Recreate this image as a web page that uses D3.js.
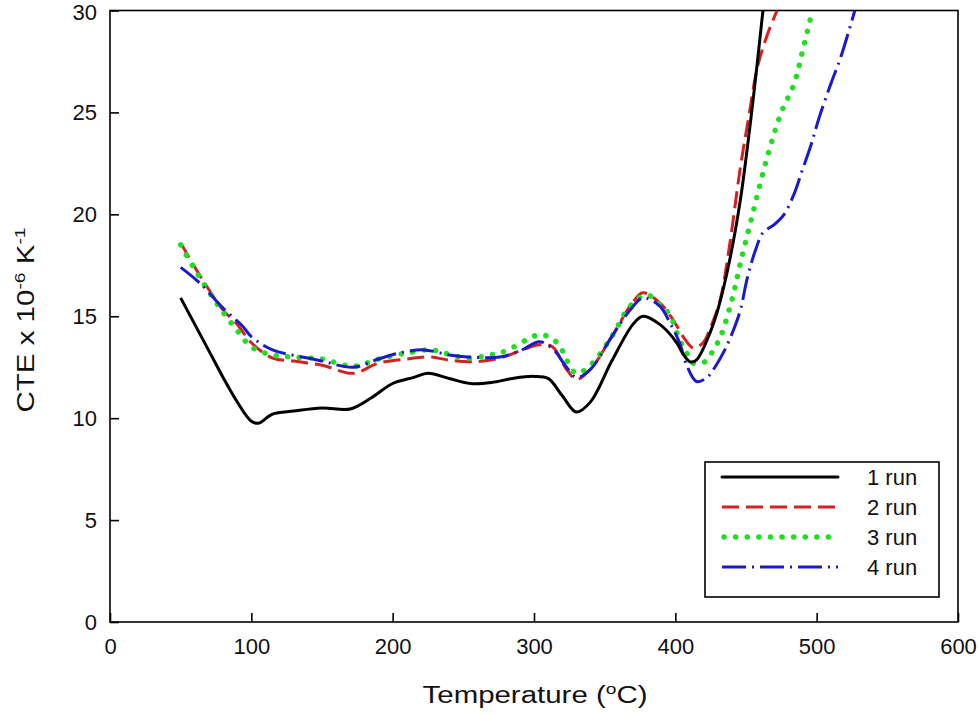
<!DOCTYPE html>
<html><head><meta charset="utf-8">
<script src="https://cdn.jsdelivr.net/npm/d3@7"></script>
<style>body{margin:0;background:#fff;}svg{display:block;font-family:Arial,"Liberation Sans",sans-serif;}</style>
</head><body><svg id="c" width="978" height="714"></svg>
<script>
const xTicks = [0,100,200,300,400,500,600];
const yTicks = [0,5,10,15,20,25,30];
const seriesNames = ["1 run","2 run","3 run","4 run"];

const run1T = [50,60,70,80,90,100,105,115,130,150,170,185,200,215,225,240,255,270,285,300,310,320,330,340,355,370,377,389,401,405,410.5,415,424.6,430,438,446,455,462];
const run1V = [15.9,14.6,13.3,12.0,10.8,9.85,9.75,10.2,10.35,10.5,10.45,11.0,11.7,12.0,12.2,11.95,11.7,11.75,11.95,12.05,11.95,11.1,10.3,10.8,12.8,14.6,15.0,14.6,13.7,13.2,12.76,12.86,14.2,15.3,17.6,20.7,25.6,30];

const run2T = [50,60,70,80,90,100,115,130,150,172,190,210,226,240,257,276,290,304,313,323,330,340,355,370,377,389,398.6,407,412.6,419.7,424.6,431.7,438,446,452,458,465,472];
const run2V = [18.6,17.4,16.3,15.3,14.6,13.7,12.95,12.8,12.6,12.2,12.7,12.9,13.0,12.85,12.77,12.95,13.3,13.6,13.5,12.4,11.9,12.4,14.0,15.7,16.15,15.66,14.8,13.85,13.45,13.7,14.4,15.8,18.3,22.3,24.8,27.2,28.8,30];

const run3T = [50,60,70,80,90,100,115,130,150,172,190,210,227,236,252,269,280,295,304,313,319,323,330,340,355,368,380,389,396,403,408,412.7,421,427,432,440,446,455,465,475,484,490,497];
const run3V = [18.5,17.3,16.2,15.2,14.3,13.5,13.1,13.0,12.9,12.55,12.9,13.2,13.35,13.2,12.95,13.1,13.3,13.85,14.1,13.9,13.45,12.86,12.2,12.6,14.0,15.5,16.05,15.56,15.07,13.85,13.2,12.7,12.77,13.35,14.0,15.8,17.6,20.1,22.8,25.0,26.4,28.0,30];

const run4T = [50,64,80,94,100,115,139,150,172,190,205,222,240,253,276,290,304,314,322,330,340,355,368,377,389,396,403,408,415,422.5,428,435,441,446,451,457,462,470,477,484,490,496,502,510,517,527];
const run4V = [17.4,16.6,15.4,14.5,14.0,13.35,12.96,12.8,12.5,12.9,13.2,13.35,13.1,13.0,13.0,13.3,13.75,13.35,12.6,12.0,12.4,14.0,15.3,15.9,15.5,14.7,13.7,12.6,11.8,12.0,12.5,13.35,14.3,15.3,16.9,18.3,19.1,19.5,20.0,21.0,22.2,23.4,24.8,26.4,27.7,30];

const runsT = [run1T, run2T, run3T, run4T];
const runsV = [run1V, run2V, run3V, run4V];
const colors = ["#000000","#d62020","#22dd22","#1a1acc"];
const dashes = [null,"17 7","0.1 11.5","24 6 2 6"];
const widths = [3,3,5.5,3];
const caps = ["butt","butt","round","butt"];

const svg = d3.select("#c");
const L=110, R=958, T=10.5, B=622;
const x = d3.scaleLinear().domain([0,600]).range([L,R]);
const y = d3.scaleLinear().domain([0,30]).range([B,T]);

svg.append("defs").append("clipPath").attr("id","clip").append("rect")
  .attr("x",L).attr("y",T).attr("width",R-L).attr("height",B-T);

svg.append("rect").attr("x",L).attr("y",T).attr("width",R-L).attr("height",B-T)
  .attr("fill","none").attr("stroke","#000").attr("stroke-width",1.6);

const xa = svg.append("g").attr("transform",`translate(0,${B})`)
  .call(d3.axisBottom(x).tickValues(xTicks).tickSizeInner(-9).tickSizeOuter(0).tickPadding(16));
xa.select(".domain").remove();
xa.selectAll("line").attr("stroke-width",1.6);
xa.selectAll("text").attr("font-size",22).attr("fill","#111");

const ya = svg.append("g").attr("transform",`translate(${L},0)`)
  .call(d3.axisLeft(y).tickValues(yTicks).tickSizeInner(-9).tickSizeOuter(0).tickPadding(13));
ya.select(".domain").remove();
ya.selectAll("line").attr("stroke-width",1.6);
ya.selectAll("text").attr("font-size",22).attr("fill","#111");
ya.selectAll(".tick").filter(d=>d===30).select("text").attr("dy","0.42em");

const line = d3.line().curve(d3.curveCatmullRom.alpha(0.5));
const g = svg.append("g").attr("clip-path","url(#clip)");
[1,2,3,0].forEach(i=>{
  const pts = runsT[i].map((t,k)=>[x(t), y(runsV[i][k])]);
  g.append("path").attr("d", line(pts)).attr("fill","none")
    .attr("stroke",colors[i]).attr("stroke-width",widths[i])
    .attr("stroke-dasharray",dashes[i]).attr("stroke-linecap",caps[i])
    .attr("stroke-linejoin","round");
});

const lg = svg.append("g");
lg.append("rect").attr("x",705).attr("y",462).attr("width",234).attr("height",135)
  .attr("fill","#fff").attr("stroke","#000").attr("stroke-width",1.6);
seriesNames.forEach((n,i)=>{
  const yy = 477 + i*30;
  lg.append("line").attr("x1",i==2?724:722).attr("x2",838).attr("y1",yy).attr("y2",yy)
    .attr("stroke",colors[i]).attr("stroke-width",widths[i])
    .attr("stroke-dasharray",dashes[i]).attr("stroke-linecap",i==0?"round":caps[i]);
  lg.append("text").attr("x",867).attr("y",yy+8).attr("font-size",22).attr("fill","#111").text(n);
});

function fitWidth(sel, target){
  const w = sel.node().getBBox().width;
  return target / w;
}

const xg = svg.append("g");
const xt = xg.append("text").attr("x",0).attr("y",0).attr("text-anchor","middle")
  .attr("font-size",23).attr("fill","#111");
xt.append("tspan").text("Temperature (");
xt.append("tspan").attr("font-size",15).attr("dy",-9).text("o");
xt.append("tspan").attr("dy",9).text("C)");
const sx = fitWidth(xt, 225);
xg.attr("transform",`translate(535,703) scale(${sx},1)`);

const yg = svg.append("g");
const yt = yg.append("text").attr("x",0).attr("y",0).attr("text-anchor","middle")
  .attr("font-size",23).attr("fill","#111");
yt.append("tspan").text("CTE x 10");
yt.append("tspan").attr("font-size",15).attr("dy",-9).text("-6");
yt.append("tspan").attr("dy",9).text(" K");
yt.append("tspan").attr("font-size",15).attr("dy",-9).text("-1");
const sy = fitWidth(yt, 185);
yg.attr("transform",`translate(34,320) rotate(-90) scale(${sy},1)`);
</script></body></html>
